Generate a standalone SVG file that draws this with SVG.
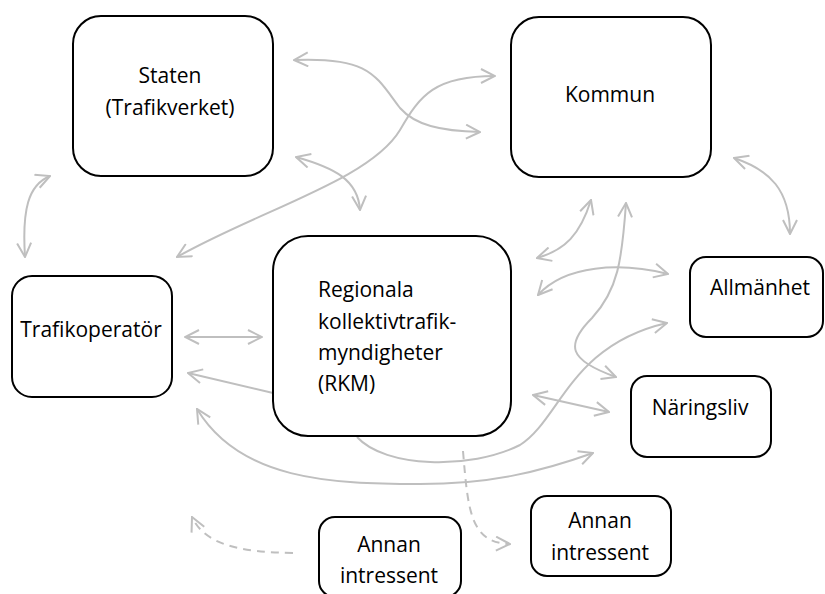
<svg xmlns="http://www.w3.org/2000/svg" width="825" height="594" viewBox="0 0 825 594">
<style>
.box{fill:#fff;stroke:#000;stroke-width:2}
.t{font-family:"Open Sans","Noto Sans",sans-serif;font-size:21px;fill:#000}
.c{text-anchor:middle}
.ln{fill:none;stroke:#bfbfbf;stroke-width:2}
.d{stroke-dasharray:8,6}
</style>
<defs>
<marker id="ah" viewBox="0 0 16 16" refX="15" refY="8" markerWidth="16" markerHeight="16" markerUnits="userSpaceOnUse" orient="auto-start-reverse">
<path d="M1,1 L15,8 L1,15" fill="none" stroke="#bfbfbf" stroke-width="2"/>
</marker>
</defs>
<rect width="825" height="594" fill="#fff"/>
<g id="connectors">
<path class="ln" d="M294,60 C370,57 375,75 400,108 C415,125 440,131 480,132" marker-start="url(#ah)" marker-end="url(#ah)"/>
<path class="ln" d="M177,257 C260,210 370,180 400,130 C420,95 435,76 495,76" marker-start="url(#ah)" marker-end="url(#ah)"/>
<path class="ln" d="M296,157 C335,168 358,180 360,210" marker-start="url(#ah)" marker-end="url(#ah)"/>
<path class="ln" d="M50,176 C28,185 22,210 25,257" marker-start="url(#ah)" marker-end="url(#ah)"/>
<path class="ln" d="M734,158 C770,170 790,190 790,234" marker-start="url(#ah)" marker-end="url(#ah)"/>
<path class="ln" d="M537,258 C565,250 580,235 591,200" marker-start="url(#ah)" marker-end="url(#ah)"/>
<path class="ln" d="M626,203 C622,260 618,290 592,318 C565,345 568,360 616,377" marker-start="url(#ah)" marker-end="url(#ah)"/>
<path class="ln" d="M538,295 C565,265 620,262 668,274" marker-start="url(#ah)" marker-end="url(#ah)"/>
<path class="ln" d="M533,395 L609,412" marker-start="url(#ah)" marker-end="url(#ah)"/>
<path class="ln" d="M357,437 C385,468 470,470 520,445 C560,420 570,345 667,323" marker-end="url(#ah)"/>
<path class="ln" d="M197,409 C240,480 330,484 420,484 C490,484 540,472 593,453" marker-start="url(#ah)" marker-end="url(#ah)"/>
<path class="ln" d="M185,337 L262,337" marker-start="url(#ah)" marker-end="url(#ah)"/>
<path class="ln" d="M273,393 L188,373" marker-end="url(#ah)"/>
<path class="ln d" d="M463,451 C468,510 470,543 510,544" marker-end="url(#ah)"/>
<path class="ln d" d="M293,553 C240,552 205,545 192,517" marker-end="url(#ah)"/>
</g>
<g id="staten">
<rect class="box" x="73" y="16" width="200" height="160" rx="28"/>
<text class="t c" x="170" y="83">Staten</text>
<text class="t c" x="170" y="115">(Trafikverket)</text>
</g>
<g id="kommun">
<rect class="box" x="511" y="17" width="200" height="160" rx="28"/>
<text class="t c" x="610" y="102">Kommun</text>
</g>
<g id="trafikoperator">
<rect class="box" x="12" y="276" width="160" height="121" rx="20"/>
<text class="t c" x="91" y="337">Trafikoperatör</text>
</g>
<g id="rkm">
<rect class="box" x="273" y="236" width="238" height="200" rx="35"/>
<text class="t" x="318" y="297">Regionala</text>
<text class="t" x="318" y="328.5">kollektivtrafik-</text>
<text class="t" x="318" y="360">myndigheter</text>
<text class="t" x="318" y="391">(RKM)</text>
</g>
<g id="allmanhet">
<rect class="box" x="690" y="257" width="133" height="80" rx="16"/>
<text class="t c" x="760" y="295">Allmänhet</text>
</g>
<g id="naringsliv">
<rect class="box" x="631" y="376" width="140" height="81" rx="16"/>
<text class="t c" x="700" y="415">Näringsliv</text>
</g>
<g id="annan-right">
<rect class="box" x="531" y="496" width="140" height="80" rx="16"/>
<text class="t c" x="600" y="528">Annan</text>
<text class="t c" x="600" y="560">intressent</text>
</g>
<g id="annan-left">
<rect class="box" x="319" y="517" width="142" height="80" rx="16"/>
<text class="t c" x="389" y="552">Annan</text>
<text class="t c" x="389" y="583">intressent</text>
</g>
</svg>
